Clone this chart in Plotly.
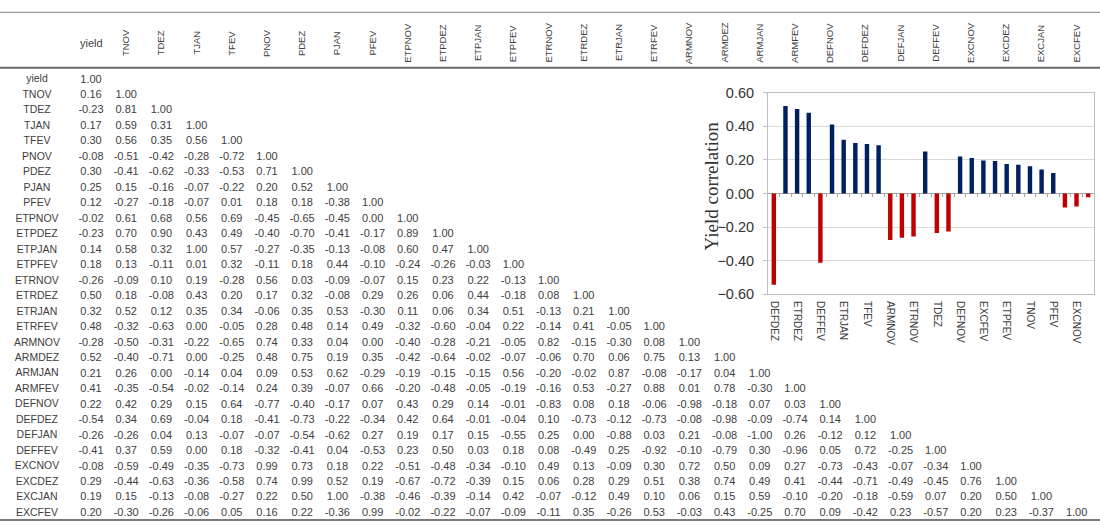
import plotly.graph_objects as go

W, H = 1100, 531

# ---------------- data ----------------
labels = ["yield", "TNOV", "TDEZ", "TJAN", "TFEV", "PNOV", "PDEZ", "PJAN", "PFEV",
          "ETPNOV", "ETPDEZ", "ETPJAN", "ETPFEV", "ETRNOV", "ETRDEZ", "ETRJAN", "ETRFEV",
          "ARMNOV", "ARMDEZ", "ARMJAN", "ARMFEV", "DEFNOV", "DEFDEZ", "DEFJAN", "DEFFEV",
          "EXCNOV", "EXCDEZ", "EXCJAN", "EXCFEV"]

r_yield = [1.00]
r_tnov = [0.16, 1.00]
r_tdez = [-0.23, 0.81, 1.00]
r_tjan = [0.17, 0.59, 0.31, 1.00]
r_tfev = [0.30, 0.56, 0.35, 0.56, 1.00]
r_pnov = [-0.08, -0.51, -0.42, -0.28, -0.72, 1.00]
r_pdez = [0.30, -0.41, -0.62, -0.33, -0.53, 0.71, 1.00]
r_pjan = [0.25, 0.15, -0.16, -0.07, -0.22, 0.20, 0.52, 1.00]
r_pfev = [0.12, -0.27, -0.18, -0.07, 0.01, 0.18, 0.18, -0.38, 1.00]
r_etpnov = [-0.02, 0.61, 0.68, 0.56, 0.69, -0.45, -0.65, -0.45, 0.00, 1.00]
r_etpdez = [-0.23, 0.70, 0.90, 0.43, 0.49, -0.40, -0.70, -0.41, -0.17, 0.89, 1.00]
r_etpjan = [0.14, 0.58, 0.32, 1.00, 0.57, -0.27, -0.35, -0.13, -0.08, 0.60, 0.47, 1.00]
r_etpfev = [0.18, 0.13, -0.11, 0.01, 0.32, -0.11, 0.18, 0.44, -0.10, -0.24, -0.26, -0.03, 1.00]
r_etrnov = [-0.26, -0.09, 0.10, 0.19, -0.28, 0.56, 0.03, -0.09, -0.07, 0.15, 0.23, 0.22, -0.13, 1.00]
r_etrdez = [0.50, 0.18, -0.08, 0.43, 0.20, 0.17, 0.32, -0.08, 0.29, 0.26, 0.06, 0.44, -0.18, 0.08, 1.00]
r_etrjan = [0.32, 0.52, 0.12, 0.35, 0.34, -0.06, 0.35, 0.53, -0.30, 0.11, 0.06, 0.34, 0.51, -0.13, 0.21, 1.00]
r_etrfev = [0.48, -0.32, -0.63, 0.00, -0.05, 0.28, 0.48, 0.14, 0.49, -0.32, -0.60, -0.04, 0.22, -0.14, 0.41, -0.05, 1.00]
r_armnov = [-0.28, -0.50, -0.31, -0.22, -0.65, 0.74, 0.33, 0.04, 0.00, -0.40, -0.28, -0.21, -0.05, 0.82, -0.15, -0.30, 0.08, 1.00]
r_armdez = [0.52, -0.40, -0.71, 0.00, -0.25, 0.48, 0.75, 0.19, 0.35, -0.42, -0.64, -0.02, -0.07, -0.06, 0.70, 0.06, 0.75, 0.13, 1.00]
r_armjan = [0.21, 0.26, 0.00, -0.14, 0.04, 0.09, 0.53, 0.62, -0.29, -0.19, -0.15, -0.15, 0.56, -0.20, -0.02, 0.87, -0.08, -0.17, 0.04, 1.00]
r_armfev = [0.41, -0.35, -0.54, -0.02, -0.14, 0.24, 0.39, -0.07, 0.66, -0.20, -0.48, -0.05, -0.19, -0.16, 0.53, -0.27, 0.88, 0.01, 0.78, -0.30, 1.00]
r_defnov = [0.22, 0.42, 0.29, 0.15, 0.64, -0.77, -0.40, -0.17, 0.07, 0.43, 0.29, 0.14, -0.01, -0.83, 0.08, 0.18, -0.06, -0.98, -0.18, 0.07, 0.03, 1.00]
r_defdez = [-0.54, 0.34, 0.69, -0.04, 0.18, -0.41, -0.73, -0.22, -0.34, 0.42, 0.64, -0.01, -0.04, 0.10, -0.73, -0.12, -0.73, -0.08, -0.98, -0.09, -0.74, 0.14, 1.00]
r_defjan = [-0.26, -0.26, 0.04, 0.13, -0.07, -0.07, -0.54, -0.62, 0.27, 0.19, 0.17, 0.15, -0.55, 0.25, 0.00, -0.88, 0.03, 0.21, -0.08, -1.00, 0.26, -0.12, 0.12, 1.00]
r_deffev = [-0.41, 0.37, 0.59, 0.00, 0.18, -0.32, -0.41, 0.04, -0.53, 0.23, 0.50, 0.03, 0.18, 0.08, -0.49, 0.25, -0.92, -0.10, -0.79, 0.30, -0.96, 0.05, 0.72, -0.25, 1.00]
r_excnov = [-0.08, -0.59, -0.49, -0.35, -0.73, 0.99, 0.73, 0.18, 0.22, -0.51, -0.48, -0.34, -0.10, 0.49, 0.13, -0.09, 0.30, 0.72, 0.50, 0.09, 0.27, -0.73, -0.43, -0.07, -0.34, 1.00]
r_excdez = [0.29, -0.44, -0.63, -0.36, -0.58, 0.74, 0.99, 0.52, 0.19, -0.67, -0.72, -0.39, 0.15, 0.06, 0.28, 0.29, 0.51, 0.38, 0.74, 0.49, 0.41, -0.44, -0.71, -0.49, -0.45, 0.76, 1.00]
r_excjan = [0.19, 0.15, -0.13, -0.08, -0.27, 0.22, 0.50, 1.00, -0.38, -0.46, -0.39, -0.14, 0.42, -0.07, -0.12, 0.49, 0.10, 0.06, 0.15, 0.59, -0.10, -0.20, -0.18, -0.59, 0.07, 0.20, 0.50, 1.00]
r_excfev = [0.20, -0.30, -0.26, -0.06, 0.05, 0.16, 0.22, -0.36, 0.99, -0.02, -0.22, -0.07, -0.09, -0.11, 0.35, -0.26, 0.53, -0.03, 0.43, -0.25, 0.70, 0.09, -0.42, 0.23, -0.57, 0.20, 0.23, -0.37, 1.00]

rows = [r_yield, r_tnov, r_tdez, r_tjan, r_tfev, r_pnov, r_pdez, r_pjan, r_pfev,
        r_etpnov, r_etpdez, r_etpjan, r_etpfev, r_etrnov, r_etrdez, r_etrjan, r_etrfev,
        r_armnov, r_armdez, r_armjan, r_armfev, r_defnov, r_defdez, r_defjan, r_deffev,
        r_excnov, r_excdez, r_excjan, r_excfev]

bar_labels = ["DEFDEZ", "ARMDEZ", "ETRDEZ", "ETRFEV", "DEFFEV", "ARMFEV", "ETRJAN", "PDEZ",
              "TFEV", "EXCDEZ", "ARMNOV", "DEFJAN", "ETRNOV", "PJAN", "TDEZ", "ETPDEZ",
              "DEFNOV", "ARMJAN", "EXCFEV", "EXCJAN", "ETPFEV", "TJAN", "TNOV", "ETPJAN",
              "PFEV", "PNOV", "EXCNOV", "ETPNOV"]
bar_values = [-0.544, 0.521, 0.504, 0.481, -0.413, 0.411, 0.320, 0.301, 0.295, 0.288,
              -0.278, -0.264, -0.257, 0.251, -0.236, -0.226, 0.220, 0.212, 0.197, 0.193,
              0.176, 0.172, 0.162, 0.143, 0.122, -0.083, -0.077, -0.023]

# ---------------- layout constants ----------------
COL0_PX, COL_STEP = 91.0, 35.2
ROW0_PX, ROW_STEP = 74.0, 15.96
ROWLABEL_PX = 37.0
HEADER_PX = 36.0
TXT = "#404040"
SANS = "Liberation Sans, Arial, sans-serif"


def col_from_px(px):
    return (px - COL0_PX) / COL_STEP


def row_from_px(py):
    return (py - ROW0_PX) / ROW_STEP


def paper_y(py):
    return 1 - py / H


fig = go.Figure()

# table values
xs, ys, ts = [], [], []
for r, vals in enumerate(rows):
    for c, v in enumerate(vals):
        xs.append(c)
        ys.append(r)
        ts.append(f"{v:.2f}")
fig.add_trace(go.Scatter(x=xs, y=ys, text=ts, mode="text", textposition="middle center",
                         textfont=dict(family=SANS, size=11, color=TXT), cliponaxis=False,
                         hoverinfo="skip", showlegend=False, xaxis="x", yaxis="y"))

# row labels
fig.add_trace(go.Scatter(x=[col_from_px(ROWLABEL_PX)] * len(labels), y=list(range(len(labels))),
                         text=labels, mode="text", textposition="middle center",
                         textfont=dict(family=SANS, size=10.5, color=TXT), cliponaxis=False,
                         hoverinfo="skip", showlegend=False, xaxis="x", yaxis="y"))

annotations = []
# header labels
for c, lab in enumerate(labels):
    if c == 0:
        annotations.append(dict(x=c, y=row_from_px(HEADER_PX), xref="x", yref="y", text=lab,
                                showarrow=False, font=dict(family=SANS, size=11, color=TXT)))
    else:
        annotations.append(dict(x=c, y=row_from_px(HEADER_PX), xref="x", yref="y", text=lab,
                                showarrow=False, textangle=-90,
                                font=dict(family=SANS, size=9.5, color=TXT)))

# y title of inset
annotations.append(dict(x=711 / W, y=paper_y(184), xref="paper", yref="paper",
                        text="Yield correlation", showarrow=False, textangle=-90,
                        font=dict(family="Liberation Serif, Times New Roman, serif", size=19,
                                  color="#333333")))

shapes = [
    dict(type="line", xref="paper", yref="paper", x0=0, x1=1, y0=paper_y(4.5), y1=paper_y(4.5),
         line=dict(color="#9a9a9a", width=1.2)),
    dict(type="line", xref="paper", yref="paper", x0=0, x1=1, y0=paper_y(61.5), y1=paper_y(61.5),
         line=dict(color="#6a6a6a", width=2)),
    dict(type="line", xref="paper", yref="paper", x0=0, x1=1, y0=paper_y(528), y1=paper_y(528),
         line=dict(color="#7a7a7a", width=2)),
]

# inset bar chart
idx = list(range(len(bar_labels)))
colors = ["#C00000" if v < 0 else "#002060" for v in bar_values]
fig.add_trace(go.Bar(x=idx, y=bar_values, marker=dict(color=colors, line=dict(width=0)),
                     width=0.38, showlegend=False, xaxis="x2", yaxis="y2",
                     hovertext=bar_labels))
# carrier for zero-line tick axis
fig.add_trace(go.Scatter(x=[0], y=[0], mode="markers", marker=dict(opacity=0),
                         hoverinfo="skip", showlegend=False, xaxis="x3", yaxis="y2"))

ydom = [paper_y(295), paper_y(87.5)]
xdom = [768 / W, 1094 / W]

fig.update_layout(
    width=W, height=H, autosize=False,
    margin=dict(l=0, r=0, t=0, b=0),
    paper_bgcolor="white", plot_bgcolor="white",
    showlegend=False,
    xaxis=dict(domain=[0, 1], range=[col_from_px(0), col_from_px(W)], visible=False,
               fixedrange=True),
    yaxis=dict(domain=[0, 1], range=[row_from_px(H), row_from_px(0)], visible=False,
               fixedrange=True),
    xaxis2=dict(domain=xdom, anchor="y2", range=[-0.5, len(idx) - 0.5],
                tickvals=idx[::2], ticktext=bar_labels[::2], tickangle=90,
                tickfont=dict(family=SANS, size=10, color=TXT),
                showgrid=False, zeroline=False, showline=True, mirror=True,
                linecolor="#bfbfbf", linewidth=1, ticks="", ticklabelstandoff=4),
    xaxis3=dict(overlaying="x2", anchor="free", position=(ydom[0] + ydom[1]) / 2,
                range=[-0.5, len(idx) - 0.5], tickvals=[i + 0.5 for i in idx[:-1]],
                ticks="outside", ticklen=3, tickcolor="#a6a6a6", showticklabels=False,
                showgrid=False, zeroline=False, showline=False),
    yaxis2=dict(domain=ydom, anchor="x2", range=[-0.6, 0.6], dtick=0.2, tick0=-0.6,
                tickformat=".2f", tickfont=dict(family=SANS, size=14.5, color="#333333"),
                showgrid=True, gridcolor="#d9d9d9", gridwidth=1,
                zeroline=True, zerolinecolor="#a6a6a6", zerolinewidth=1,
                showline=True, mirror=True, linecolor="#bfbfbf", linewidth=1,
                ticks="outside", ticklen=4, tickcolor="#bfbfbf", ticklabelstandoff=6),
    annotations=annotations,
    shapes=shapes,
)

fig.write_html("out.html", config={"displayModeBar": False},
               post_script="document.body.style.margin='0px';document.body.style.overflow='hidden';")
